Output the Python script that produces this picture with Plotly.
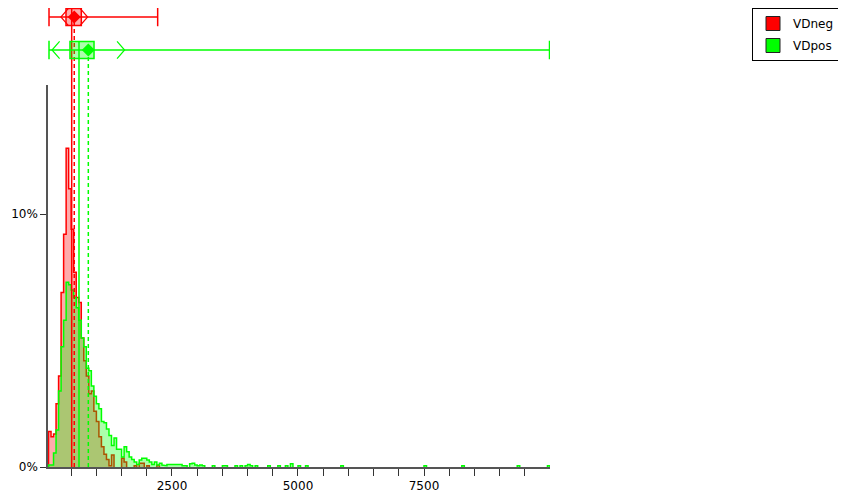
import plotly.graph_objects as go

# ---------------- data ----------------
series_names = ["VDneg", "VDpos"]
series_colors = ["#ff0000", "#00ff00"]
fill_colors = ["rgba(255,0,0,0.33)", "rgba(0,255,0,0.33)"]

bin_width = 50
first_bin = 50

# percent of values per 50-wide bin, starting at 50
vdneg_pct = [1.4, 1.2, 1.3, 2.5, 3.6, 6.9, 9.2, 12.6, 11.0, 9.4,
             7.7, 6.7, 6.5, 5.1, 4.2, 3.6, 2.9, 3.0, 2.2, 1.8,
             1.2, 0.8, 0.5, 0.3, 0.05, 0.47, 0.0, 0.0, 0.0, 0.35,
             0.2, 0.0, 0.0, 0.0, 0.05, 0.0, 0.15, 0.15, 0.0, 0.05,
             0.0, 0.0, 0.0, 0.07]
vdpos_pct = [0.08, 0.08, 0.55, 1.46, 3.0, 4.75, 5.8, 7.3, 7.2, 7.0,
             6.7, 6.3, 5.8, 5.1, 4.75, 3.9, 3.8, 3.2, 2.8, 2.5,
             2.3, 1.8, 1.75, 1.5, 1.25, 0.85, 1.15, 0.7, 0.7, 0.4,
             0.8, 0.6, 0.4, 0.3, 0.2, 0.1, 0.28, 0.35, 0.35, 0.28,
             0.2, 0.1, 0.2, 0.08, 0.15, 0.08, 0.05, 0.1, 0.1, 0.1,
             0.1, 0.1, 0.1, 0.05, 0.05, 0.0, 0.13, 0.15, 0.08, 0.05,
             0.08, 0.05]
# sparse far tail of VDpos (bin start, percent)
vdpos_tail_start = [3300, 3500, 3550, 3750, 3850, 3950, 4000, 4050, 4150, 4400,
                    4600, 4750, 4850, 5000, 5150, 5850, 7500, 8250, 9350, 9950]
vdpos_tail_pct = [0.05, 0.05, 0.05, 0.05, 0.05, 0.05, 0.1, 0.05, 0.05, 0.05,
                  0.05, 0.05, 0.13, 0.05, 0.05, 0.05, 0.05, 0.05, 0.05, 0.05]

# summary statistics shown above the histogram
whisker_low = [60, 60]
q1 = [397, 476]
median = [510, 655]
q3 = [701, 953]
whisker_high = [2216, 9990]
mean = [561, 840]
sd = [265, 720]

x_tick_vals = list(range(500, 10000, 500))
x_tick_labels = {2500: "2500", 5000: "5000", 7500: "7500"}
y_tick_vals = [0, 10]
y_tick_labels = ["0%", "10%"]

# ---------------- layout constants ----------------
# the page body has an 8px margin, so the figure is sized to fit the window
W, H = 830, 487
X_RANGE = [40, 10000]
Y_RANGE = [0, 15.1]
Y_DOMAIN = [0, 0.8322]
Y2_DOMAIN = [0.8431, 1.0]
Y2_RANGE = [-0.909, 1.2727]
box_pos = [1, 0]
box_half = 0.26
cap_half = 0.28
arm_len = 150
FONT = "DejaVu Sans"


def y2_to_paper(v):
    d0, d1 = Y2_DOMAIN
    r0, r1 = Y2_RANGE
    return d0 + (v - r0) / (r1 - r0) * (d1 - d0)


def step_outline(starts, heights, width):
    xs, ys = [], []
    prev_end = None
    for s, h in zip(starts, heights):
        if h <= 0:
            if prev_end is not None:
                xs += [prev_end, None]
                ys += [0, None]
                prev_end = None
            continue
        if prev_end is None or prev_end != s:
            if prev_end is not None:
                xs += [prev_end, None]
                ys += [0, None]
            xs.append(s)
            ys.append(0)
        xs += [s, s + width]
        ys += [h, h]
        prev_end = s + width
    if prev_end is not None:
        xs.append(prev_end)
        ys.append(0)
    return xs, ys


neg_starts = [first_bin + bin_width * i for i in range(len(vdneg_pct))]
pos_starts = [first_bin + bin_width * i for i in range(len(vdpos_pct))] + vdpos_tail_start
pos_heights = vdpos_pct + vdpos_tail_pct

hist_data = [(neg_starts, vdneg_pct), (pos_starts, pos_heights)]

fig = go.Figure()

for i, (st, hh) in enumerate(hist_data):
    xs, ys = step_outline(st, hh, bin_width)
    fig.add_trace(go.Scatter(
        x=xs, y=ys, mode="lines", fill="toself",
        fillcolor=fill_colors[i],
        line=dict(color=series_colors[i], width=1.5),
        connectgaps=False, showlegend=False, hoverinfo="skip",
        xaxis="x", yaxis="y"))

shapes = []
# vertical median (solid) and mean (dashed) lines
for i in range(2):
    top = y2_to_paper(box_pos[i] + box_half)
    mid = y2_to_paper(box_pos[i])
    shapes.append(dict(type="line", xref="x", yref="paper",
                       x0=median[i], x1=median[i], y0=0, y1=top,
                       line=dict(color=series_colors[i], width=1.5)))
    shapes.append(dict(type="line", xref="x", yref="paper",
                       x0=mean[i], x1=mean[i], y0=0, y1=mid,
                       line=dict(color=series_colors[i], width=1.5, dash="4px,3px")))

for i in range(2):
    c = box_pos[i]
    col = series_colors[i]
    shapes.append(dict(type="line", xref="x", yref="y2",
                       x0=whisker_low[i], x1=whisker_high[i], y0=c, y1=c,
                       line=dict(color=col, width=1.5)))
    for xv in (whisker_low[i], whisker_high[i]):
        shapes.append(dict(type="line", xref="x", yref="y2",
                           x0=xv, x1=xv, y0=c - cap_half, y1=c + cap_half,
                           line=dict(color=col, width=1.5)))
    shapes.append(dict(type="rect", xref="x", yref="y2",
                       x0=q1[i], x1=q3[i], y0=c - box_half, y1=c + box_half,
                       fillcolor=fill_colors[i],
                       line=dict(color=col, width=1.5)))

fig.update_layout(shapes=shapes)

for i in range(2):
    c = box_pos[i]
    col = series_colors[i]
    lo = mean[i] - sd[i]
    hi = mean[i] + sd[i]
    fig.add_trace(go.Scatter(
        x=[lo + arm_len, lo, lo + arm_len, None, hi - arm_len, hi, hi - arm_len],
        y=[c + box_half, c, c - box_half, None, c + box_half, c, c - box_half],
        mode="lines", line=dict(color=col, width=1.2),
        showlegend=False, hoverinfo="skip", xaxis="x", yaxis="y2"))
    fig.add_trace(go.Scatter(
        x=[mean[i]], y=[c], mode="markers",
        marker=dict(symbol="diamond", size=10, color=col, line=dict(width=0)),
        showlegend=False, hoverinfo="skip", xaxis="x", yaxis="y2"))

for i in range(2):
    fig.add_trace(go.Scatter(
        x=[None], y=[None], mode="markers", name=series_names[i],
        legendgroup=series_names[i],
        marker=dict(symbol="square", size=14, color=series_colors[i],
                    line=dict(color="#222222", width=1)),
        xaxis="x", yaxis="y"))

fig.update_layout(
    width=W, height=H,
    margin=dict(l=40, r=288, t=0, b=28, autoexpand=False),
    paper_bgcolor="white", plot_bgcolor="white",
    font=dict(family=FONT, size=12, color="black"),
    xaxis=dict(range=X_RANGE, showgrid=False, zeroline=False,
               showline=True, linecolor="#555555", linewidth=1.5,
               ticks="outside", ticklen=7, tickwidth=1, tickcolor="#333333",
               tickvals=x_tick_vals,
               ticktext=[x_tick_labels.get(v, "") for v in x_tick_vals],
               anchor="y", automargin=False),
    yaxis=dict(domain=Y_DOMAIN, range=Y_RANGE, showgrid=False, zeroline=False,
               showline=True, linecolor="#555555", linewidth=1.5,
               ticks="outside", ticklen=6, tickwidth=1, tickcolor="#333333",
               tickvals=y_tick_vals, ticktext=y_tick_labels, anchor="x",
               automargin=False),
    yaxis2=dict(domain=Y2_DOMAIN, range=Y2_RANGE, visible=False, anchor="x"),
    legend=dict(x=1.4024, y=1.0, xanchor="left", yanchor="top",
                bordercolor="black", borderwidth=1, bgcolor="white",
                tracegroupgap=3,
                font=dict(family=FONT, size=12)),
    showlegend=True,
)

fig.write_html("out.html")
